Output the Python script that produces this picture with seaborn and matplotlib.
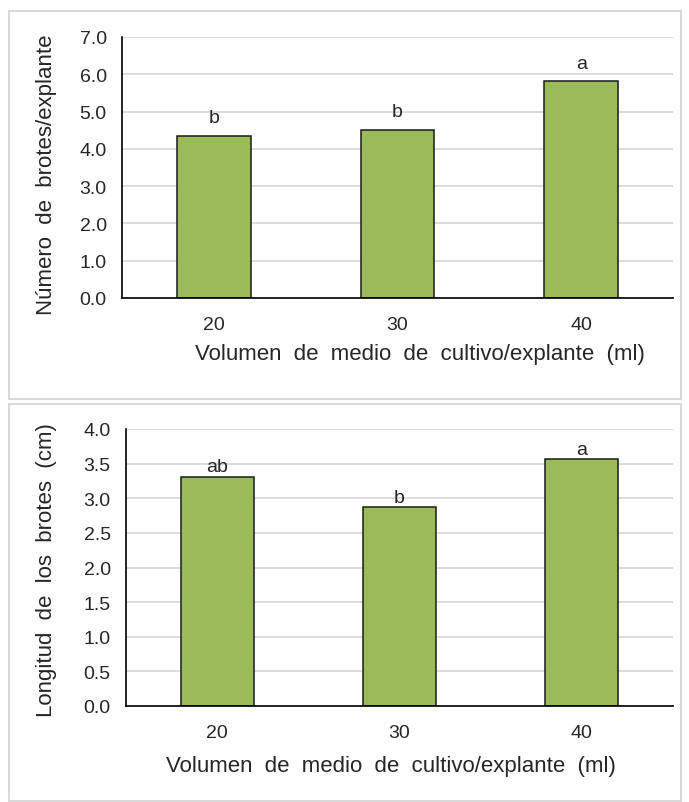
import matplotlib
matplotlib.use("Agg")
import matplotlib.pyplot as plt
import seaborn as sns
import pandas as pd
from matplotlib.patches import Rectangle

# data
volumes = ["20", "30", "40"]
brotes = [4.35, 4.50, 5.81]
brotes_letters = ["b", "b", "a"]
longitud = [3.31, 2.87, 3.56]
longitud_letters = ["ab", "b", "a"]

BAR_COLOR = "#9BBB59"
GRID_COLOR = "#d9d9d9"

sns.set_style("white")
plt.rcParams["font.family"] = ["Liberation Sans", "DejaVu Sans"]

fig = plt.figure(figsize=(6.89, 8.03), dpi=100)

# light grey frames around the two panels
fig.patches.append(Rectangle((9 / 689, 1 - 400 / 803), 672 / 689, 388 / 803,
                             transform=fig.transFigure, fill=False,
                             edgecolor=GRID_COLOR, linewidth=1.5))
fig.patches.append(Rectangle((9 / 689, 1 - 802 / 803), 672 / 689, 397 / 803,
                             transform=fig.transFigure, fill=False,
                             edgecolor=GRID_COLOR, linewidth=1.5))


def draw_panel(ax, values, letters, ylabel, ymax, step, lab_pad,
               ylab_xy, xlab_xy):
    df = pd.DataFrame({"vol": volumes, "val": values})
    sns.barplot(data=df, x="vol", y="val", color=BAR_COLOR, saturation=1,
                edgecolor="#1a1a1a", linewidth=1.1, width=0.4, ax=ax)
    ax.bar_label(ax.containers[0], labels=letters, padding=lab_pad,
                 fontsize=14, color="#262626")
    ax.set_ylim(0, ymax)
    ticks = [i * step for i in range(int(round(ymax / step)) + 1)]
    ax.set_yticks(ticks)
    ax.set_yticklabels([f"{t:.1f}" for t in ticks])
    ax.yaxis.grid(True, color=GRID_COLOR, linewidth=1.3)
    ax.set_axisbelow(True)
    for s in ["top", "right"]:
        ax.spines[s].set_visible(False)
    for s in ["left", "bottom"]:
        ax.spines[s].set_color("black")
        ax.spines[s].set_linewidth(1.2)
    ax.tick_params(axis="both", length=0, labelsize=14, colors="#262626")
    ax.tick_params(axis="x", pad=13)
    ax.tick_params(axis="y", pad=11)
    ax.set_ylabel(ylabel, fontsize=16, color="#262626")
    ax.set_xlabel("Volumen  de  medio  de  cultivo/explante  (ml)",
                  fontsize=16, color="#262626")
    ax.yaxis.set_label_coords(*ylab_xy)
    ax.xaxis.set_label_coords(*xlab_xy)


ax1 = fig.add_axes([122 / 689, 1 - 299 / 803, 551 / 689, 261 / 803])
draw_panel(ax1, brotes, brotes_letters, "Número  de  brotes/explante",
           7.0, 1.0, 7, (-0.118, 0.475), (0.541, -0.172))

ax2 = fig.add_axes([126 / 689, 1 - 707 / 803, 547 / 689, 277 / 803])
draw_panel(ax2, longitud, longitud_letters, "Longitud  de  los  brotes  (cm)",
           4.0, 0.5, 1, (-0.126, 0.495), (0.4845, -0.177))

fig.savefig("out.png", dpi=100)
